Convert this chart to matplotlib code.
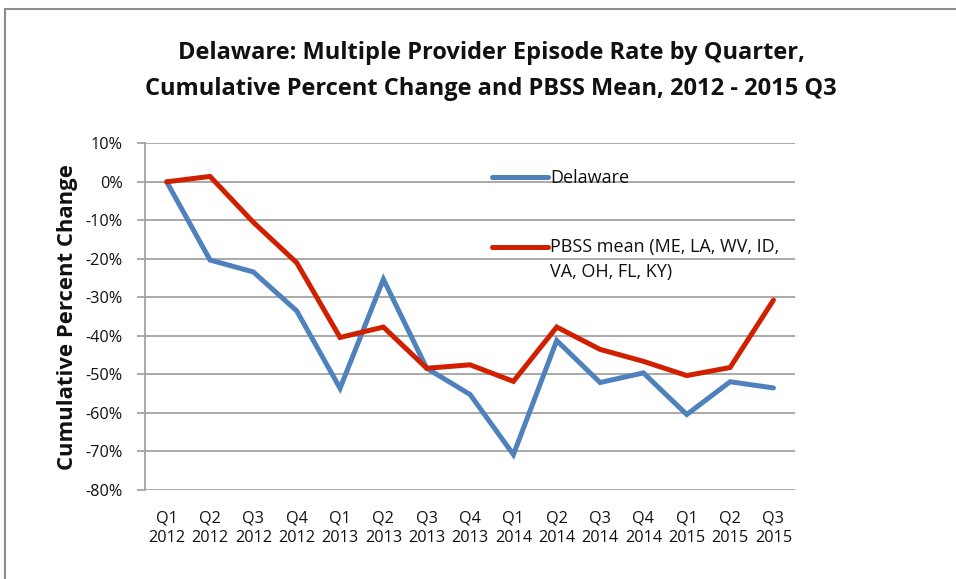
import matplotlib.pyplot as plt
from matplotlib.patches import Rectangle
from matplotlib.legend_handler import HandlerLine2D
from matplotlib.ticker import FuncFormatter

# quarters and cumulative percent change
quarters = ['Q1\n2012', 'Q2\n2012', 'Q3\n2012', 'Q4\n2012',
            'Q1\n2013', 'Q2\n2013', 'Q3\n2013', 'Q4\n2013',
            'Q1\n2014', 'Q2\n2014', 'Q3\n2014', 'Q4\n2014',
            'Q1\n2015', 'Q2\n2015', 'Q3\n2015']
delaware = [0, -20.3, -23.4, -33.5, -53.6, -25.3, -48.4, -55.2,
            -70.8, -41.2, -52.1, -49.6, -60.4, -51.9, -53.5]
pbss = [0, 1.4, -10.5, -21.0, -40.4, -37.7, -48.4, -47.5,
        -51.8, -37.7, -43.5, -46.6, -50.3, -48.2, -30.7]

plt.rcParams['font.family'] = ['Open Sans', 'DejaVu Sans']

grid_col = '#a3a3a3'
txt_col = '#111111'

fig = plt.figure(figsize=(9.56, 5.79), dpi=100)
ax = fig.add_axes([0.1517, 0.1537, 0.680, 0.5988])

x = list(range(len(quarters)))
ax.plot(x, delaware, color='#4f81bd', lw=3.6, label='Delaware',
        solid_joinstyle='miter', solid_capstyle='round')
ax.plot(x, pbss, color='#d02000', lw=3.6,
        label='PBSS mean (ME, LA, WV, ID,\nVA, OH, FL, KY)',
        solid_joinstyle='miter', solid_capstyle='round')

ax.set_xlim(-0.5, len(quarters) - 0.5)
ax.set_ylim(-80, 10)
ax.set_yticks(range(-80, 11, 10))
ax.yaxis.set_major_formatter(FuncFormatter(lambda v, p: f'{v:.0f}%'))
ax.set_xticks(x)
ax.set_xticklabels(quarters)
ax.tick_params(axis='x', length=0, pad=15, labelsize=11.7, colors=txt_col)
ax.tick_params(axis='y', length=6, width=1.3, color=grid_col, pad=10,
               labelsize=11.7, labelcolor=txt_col)
for t in ax.get_xticklabels():
    t.set_linespacing(1.3)
ax.grid(axis='y', color=grid_col, lw=1.3)
ax.set_axisbelow(True)
for s in ['top', 'right', 'bottom']:
    ax.spines[s].set_visible(False)
ax.spines['left'].set_color(grid_col)
ax.spines['left'].set_linewidth(1.3)

ax.set_ylabel('Cumulative Percent Change', fontsize=15.9, fontweight='bold',
              labelpad=5.5, color=txt_col)

fig.text(0.5136, 0.877,
         'Delaware: Multiple Provider Episode Rate by Quarter,\n'
         'Cumulative Percent Change and PBSS Mean, 2012 - 2015 Q3',
         ha='center', va='center', fontsize=17, fontweight='bold',
         linespacing=1.65, color=txt_col)


class TopLine(HandlerLine2D):
    # keep the handle level with the first line of a wrapped label
    def create_artists(self, legend, orig_handle, xdescent, ydescent,
                       width, height, fontsize, trans):
        lines = orig_handle.get_label().count('\n')
        shift = lines * fontsize * 0.72
        return super().create_artists(legend, orig_handle, xdescent,
                                      ydescent - 2 * shift, width, height,
                                      fontsize, trans)


leg = ax.legend(loc='upper left', bbox_to_anchor=(0.534, 0.9255),
                frameon=False, fontsize=13, handlelength=3.1,
                handletextpad=0.1, borderpad=0, borderaxespad=0,
                labelspacing=2.83, handler_map={plt.Line2D: TopLine()})
for t in leg.get_texts():
    t.set_linespacing(1.5)
    t.set_color(txt_col)

fig.patches.append(Rectangle((5 / 956, -0.1), 1.2, 0.1 + 1 - 9 / 579,
                             transform=fig.transFigure, fill=False,
                             edgecolor='#8c8c8c', lw=1.5))

fig.savefig('out.png', dpi=100)
